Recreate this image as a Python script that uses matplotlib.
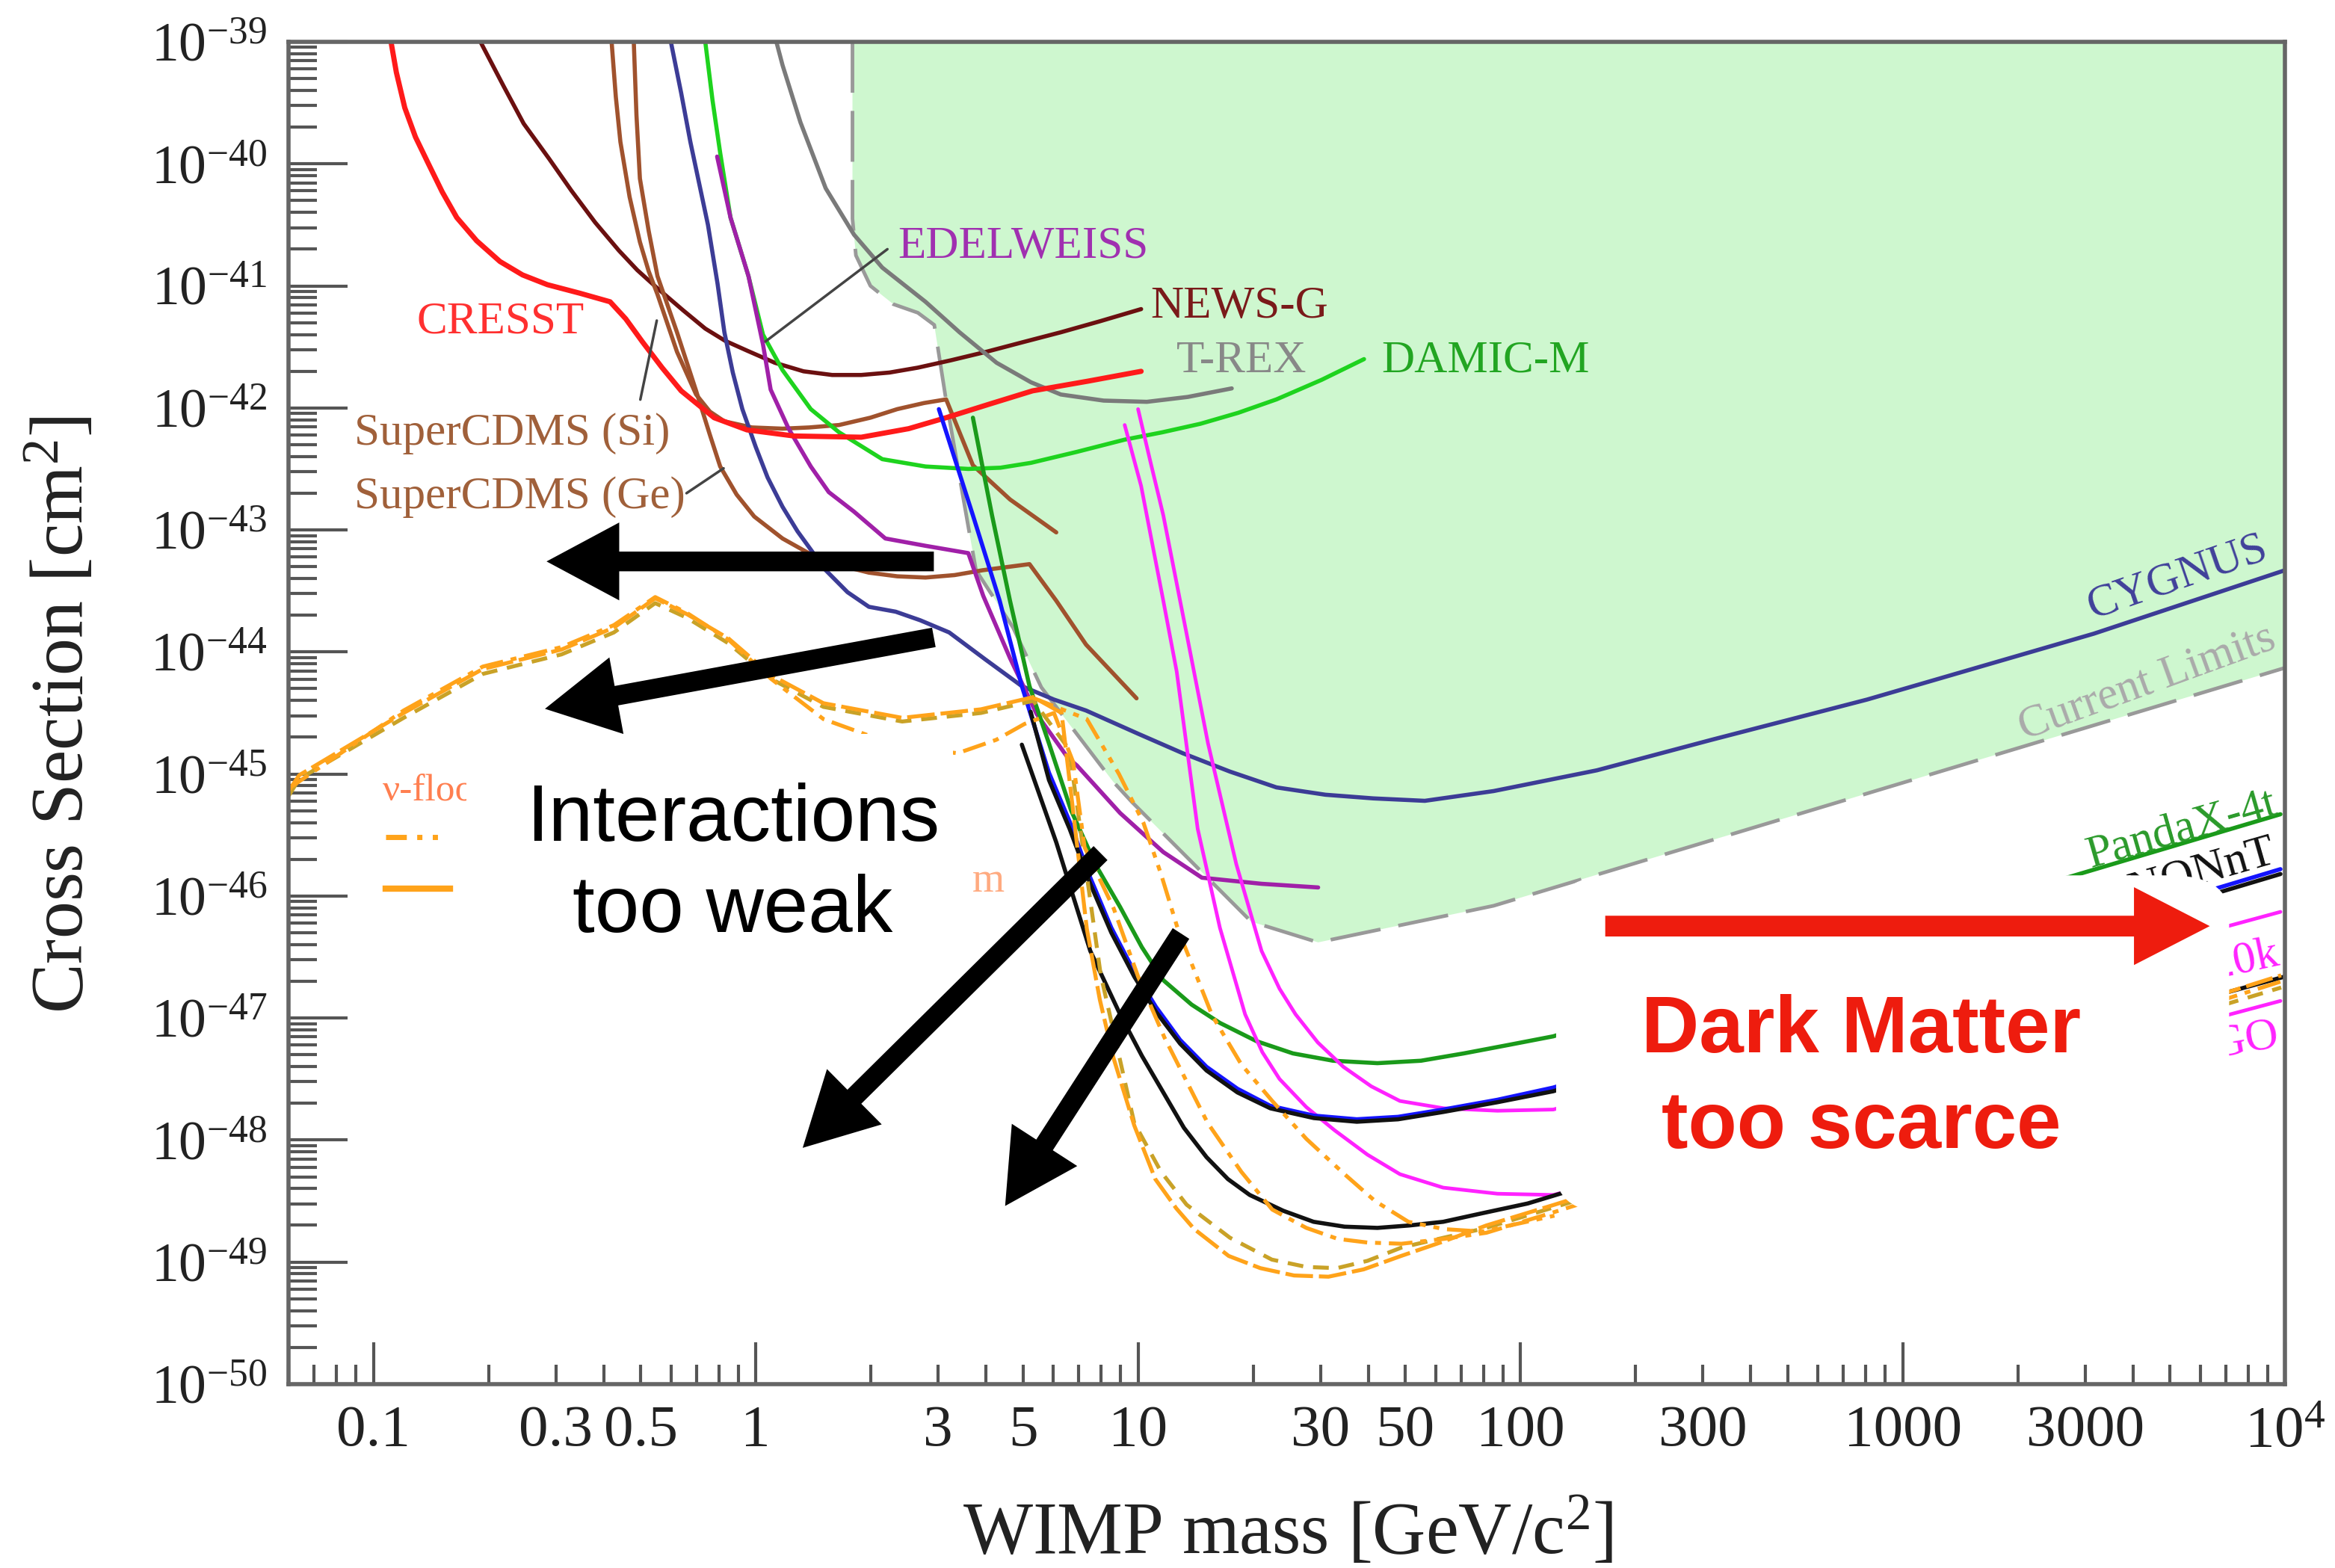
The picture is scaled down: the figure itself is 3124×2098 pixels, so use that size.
import matplotlib
matplotlib.use("Agg")
import matplotlib.pyplot as plt
import numpy as np
from matplotlib.patches import FancyBboxPatch, Rectangle
from matplotlib.ticker import FixedLocator, FixedFormatter, LogLocator, FuncFormatter

plt.rcParams['font.family'] = ['Liberation Serif', 'DejaVu Serif']
plt.rcParams['mathtext.fontset'] = 'custom'
plt.rcParams['mathtext.rm'] = 'Liberation Serif'
plt.rcParams['mathtext.it'] = 'Liberation Serif:italic'

# all curves: log10(WIMP mass / GeV) and log10(cross section / cm^2)
cresst_m = [-0.954, -0.94, -0.918, -0.89, -0.856, -0.82, -0.782, -0.73, -0.669, -0.61, -0.545, -0.46, -0.381, -0.34,
            -0.296, -0.245, -0.195, -0.109, -0.023, 0.1, 0.276, 0.40, 0.498, 0.61, 0.724, 0.87, 1.008]
cresst_s = [-39.0, -39.25, -39.54, -39.78, -40.00, -40.23, -40.44, -40.63, -40.80, -40.91, -40.99, -41.06, -41.13, -41.27,
            -41.46, -41.67, -41.86, -42.08, -42.18, -42.23, -42.24, -42.17, -42.08, -41.97, -41.86, -41.78, -41.70]

newsg_m = [-0.720, -0.66, -0.607, -0.54, -0.482, -0.42, -0.358, -0.31, -0.257, -0.19, -0.132, -0.08, -0.023, 0.05,
           0.125, 0.20, 0.276, 0.35, 0.424, 0.51, 0.603, 0.70, 0.798, 0.90, 1.008]
newsg_s = [-39.0, -39.36, -39.67, -39.96, -40.22, -40.48, -40.71, -40.87, -41.02, -41.20, -41.35, -41.45, -41.53, -41.63,
           -41.70, -41.73, -41.73, -41.71, -41.67, -41.61, -41.54, -41.46, -41.38, -41.29, -41.19]

si_m = [-0.377, -0.366, -0.354, -0.33, -0.303, -0.28, -0.257, -0.206, -0.156, -0.12, -0.082, -0.01, 0.070, 0.14,
        0.218, 0.30, 0.370, 0.44, 0.498, 0.568, 0.665, 0.786]
si_s = [-39.0, -39.45, -39.82, -40.27, -40.64, -40.88, -41.07, -41.54, -41.89, -42.03, -42.11, -42.16, -42.17, -42.16,
        -42.14, -42.08, -42.01, -41.96, -41.93, -42.47, -42.75, -43.02]

ge_m = [-0.319, -0.312, -0.303, -0.28, -0.257, -0.206, -0.156, -0.12, -0.093, -0.05, -0.004, 0.07, 0.144, 0.22,
        0.296, 0.37, 0.444, 0.52, 0.594, 0.716, 0.786, 0.864, 0.996]
ge_s = [-39.0, -39.60, -40.12, -40.55, -40.92, -41.38, -41.86, -42.22, -42.48, -42.71, -42.89, -43.07, -43.20, -43.29,
        -43.35, -43.38, -43.39, -43.37, -43.33, -43.28, -43.58, -43.94, -44.38]

cyg_m = [-0.222, -0.195, -0.171, -0.148, -0.125, -0.10, -0.082, -0.06, -0.035, 0.0, 0.031, 0.07, 0.109, 0.183, 0.24,
         0.296, 0.366, 0.43, 0.506, 0.60, 0.696, 0.78, 0.864, 1.0, 1.117, 1.24, 1.362, 1.49, 1.615, 1.75, 1.930,
         2.2, 2.5, 2.907, 3.5, 4.0]
cyg_s = [-39.0, -39.42, -39.82, -40.16, -40.50, -40.98, -41.38, -41.71, -42.01, -42.32, -42.57, -42.81, -43.01, -43.33,
         -43.51, -43.63, -43.67, -43.74, -43.84, -44.06, -44.28, -44.39, -44.48, -44.67, -44.83, -44.98, -45.11, -45.17,
         -45.20, -45.22, -45.14, -44.97, -44.72, -44.39, -43.85, -43.33]

damic_m = [-0.132, -0.113, -0.093, -0.066, -0.019, 0.019, 0.070, 0.144, 0.218, 0.331, 0.444, 0.556, 0.640, 0.720,
           0.84, 0.965, 1.063, 1.163, 1.262, 1.362, 1.48, 1.591]
damic_s = [-39.0, -39.48, -39.91, -40.44, -40.92, -41.40, -41.69, -42.01, -42.20, -42.42, -42.48, -42.50, -42.49, -42.45,
           -42.36, -42.26, -42.20, -42.13, -42.04, -41.93, -41.77, -41.60]

edw_m = [-0.101, -0.066, -0.019, 0.019, 0.039, 0.086, 0.144, 0.191, 0.257, 0.339, 0.444, 0.556, 0.595, 0.665,
         0.735, 0.817, 0.840, 0.953, 1.066, 1.167, 1.323, 1.471]
edw_s = [-39.94, -40.44, -40.92, -41.48, -41.85, -42.17, -42.48, -42.69, -42.85, -43.07, -43.13, -43.19, -43.54, -44.05,
         -44.51, -44.87, -44.93, -45.32, -45.64, -45.85, -45.90, -45.93]

trex_m = [0.054, 0.070, 0.117, 0.183, 0.257, 0.331, 0.444, 0.533, 0.630, 0.720, 0.798, 0.91, 1.023, 1.13, 1.245]
trex_s = [-39.0, -39.19, -39.66, -40.20, -40.58, -40.85, -41.13, -41.38, -41.63, -41.79, -41.89, -41.94, -41.95, -41.91, -41.84]

lz_m = [0.479, 0.568, 0.638, 0.696, 0.767, 0.821, 0.875, 0.930, 0.99, 1.047, 1.11, 1.179, 1.26, 1.346, 1.46, 1.572,
        1.68, 1.798, 1.94, 2.086, 3.988]
lz_s = [-42.01, -42.88, -43.58, -44.28, -44.99, -45.39, -45.85, -46.26, -46.62, -46.91, -47.18, -47.40, -47.58, -47.72,
        -47.80, -47.83, -47.81, -47.75, -47.67, -47.57, -45.78]

xenon_m = [0.719, 0.767, 0.821, 0.875, 0.930, 0.99, 1.047, 1.11, 1.179, 1.26, 1.346, 1.46, 1.572, 1.68, 1.798, 1.94,
           2.086, 3.988]
xenon_s = [-44.49, -45.05, -45.45, -45.90, -46.30, -46.66, -46.95, -47.21, -47.43, -47.61, -47.74, -47.82, -47.85, -47.83,
           -47.77, -47.69, -47.60, -45.82]

darwin_m = [0.696, 0.786, 0.875, 0.953, 1.01, 1.066, 1.12, 1.179, 1.235, 1.292, 1.38, 1.459, 1.54, 1.626, 1.71, 1.798,
            1.90, 2.019, 3.848, 4.0]
darwin_s = [-44.76, -45.56, -46.45, -46.97, -47.31, -47.61, -47.90, -48.14, -48.32, -48.45, -48.58, -48.67, -48.71,
            -48.72, -48.70, -48.67, -48.60, -48.52, -46.79, -46.66]

panda_m = [0.568, 0.618, 0.665, 0.716, 0.767, 0.825, 0.89, 0.953, 1.01, 1.066, 1.14, 1.214, 1.31, 1.405, 1.51, 1.626,
           1.74, 1.852, 1.97, 2.086, 3.397, 3.988]
panda_s = [-42.08, -42.88, -43.58, -44.28, -44.75, -45.30, -45.75, -46.09, -46.42, -46.69, -46.89, -47.04, -47.19, -47.29,
           -47.35, -47.37, -47.35, -47.29, -47.22, -47.15, -45.88, -45.33]

ds20k_m = [1.0, 1.033, 1.066, 1.125, 1.183, 1.257, 1.323, 1.37, 1.412, 1.47, 1.537, 1.61, 1.685, 1.80, 1.94, 2.086, 3.988]
ds20k_s = [-42.01, -42.45, -42.88, -43.82, -44.75, -45.74, -46.45, -46.76, -46.97, -47.20, -47.40, -47.56, -47.68,
           -47.74, -47.76, -47.75, -46.13]

argo_m = [0.965, 1.008, 1.066, 1.101, 1.156, 1.214, 1.280, 1.325, 1.370, 1.44, 1.514, 1.60, 1.685, 1.798, 1.94, 2.086, 3.988]
argo_s = [-42.14, -42.64, -43.58, -44.16, -45.45, -46.26, -46.97, -47.28, -47.50, -47.73, -47.92, -48.12, -48.28,
          -48.39, -48.44, -48.45, -46.86]

# neutrino fog curves
fog_a_m = [-1.222, -1.194, -0.921, -0.714, -0.508, -0.371, -0.263, -0.180, -0.071, 0.040, 0.177, 0.383, 0.589, 0.726,
           0.80, 0.83, 0.866, 0.90, 0.936, 0.99, 1.045, 1.10, 1.147, 1.237, 1.32, 1.408, 1.498, 1.59, 1.688, 1.80, 1.911,
           2.089, 3.99]
fog_a_s = [-45.14, -45.01, -44.50, -44.14, -43.98, -43.80, -43.56, -43.69, -43.89, -44.19, -44.42, -44.54, -44.47, -44.37,
           -44.50, -45.30, -46.27, -46.85, -47.33, -47.88, -48.32, -48.56, -48.73, -48.95, -49.05, -49.11, -49.12, -49.06,
           -48.95, -48.83, -48.70, -48.53, -46.65]
fog_b_m = [-1.222, -1.194, -0.921, -0.714, -0.508, -0.371, -0.263, -0.180, -0.071, 0.040, 0.177, 0.383, 0.589, 0.726,
           0.82, 0.902, 0.99, 1.06, 1.127, 1.24, 1.35, 1.44, 1.52, 1.60, 1.69, 1.80, 1.911, 2.089, 3.99]
fog_b_s = [-45.18, -45.04, -44.54, -44.18, -44.02, -43.84, -43.60, -43.72, -43.93, -44.22, -44.45, -44.57, -44.50, -44.40,
           -44.80, -46.64, -47.86, -48.26, -48.53, -48.80, -48.98, -49.04, -49.05, -48.99, -48.88, -48.80, -48.72, -48.55,
           -46.75]
fog_c_m = [-1.222, -0.921, -0.714, -0.508, -0.371, -0.263, -0.180, -0.071, 0.040, 0.177, 0.30, 0.45, 0.528, 0.629, 0.703,
           0.78, 0.83, 0.86, 0.936, 1.0, 1.069, 1.182, 1.27, 1.351, 1.44, 1.522, 1.60, 1.689, 1.80, 1.911, 2.089, 3.99]
fog_c_s = [-45.12, -44.48, -44.12, -43.96, -43.78, -43.55, -43.68, -43.90, -44.22, -44.55, -44.69, -44.80, -44.83, -44.72,
           -44.59, -44.50, -44.90, -45.60, -46.10, -46.66, -47.16, -47.86, -48.26, -48.57, -48.72, -48.81, -48.84, -48.85,
           -48.81, -48.76, -48.59, -46.70]
fog_d_m = [0.72, 0.866, 0.95, 1.014, 1.06, 1.104, 1.194, 1.27, 1.351, 1.44, 1.54, 1.62, 1.707, 1.8, 1.9, 2.089]
fog_d_s = [-44.37, -44.55, -45.00, -45.40, -45.82, -46.27, -46.98, -47.38, -47.68, -47.99, -48.28, -48.50, -48.67,
           -48.73, -48.75, -48.62]

# current limits boundary
cl_m = [0.253, 0.253, 0.262, 0.30, 0.36, 0.424, 0.467, 0.498, 0.576, 0.673, 0.747, 0.934, 0.984, 1.296, 1.471, 1.93, 4.0]
cl_s = [-39.0, -40.45, -40.75, -41.0, -41.15, -41.22, -41.32, -41.94, -43.33, -43.80, -44.29, -45.06, -45.23, -46.21, -46.38, -46.08, -44.13]

x_major = [0.1, 1, 10, 100, 1000, 1e4]
x_major_labels = ['0.1', '1', '10', '100', '1000', r'$\mathregular{10^4}$']
x_minor_labelled = [0.3, 0.5, 3, 5, 30, 50, 300, 3000]


def p(lm, ls):
    return 10 ** np.array(lm), 10 ** np.array(ls)


fig = plt.figure(figsize=(31.24, 20.98), dpi=100)
ax = fig.add_axes([0.1236, 0.1173, 0.855, 0.856])
ax.set_xscale('log')
ax.set_yscale('log')
ax.set_xlim(0.06, 1e4)
ax.set_ylim(1e-50, 1e-39)

# current limits: shaded region + dashed boundary
cx, cy = p(cl_m, cl_s)
ax.fill(np.r_[cx, 1e4, cx[0]], np.r_[cy, 1e-39, 1e-39], color='#cef7cf', lw=0, zorder=0.5)
ax.plot(cx, cy, color='#999999', lw=3.5, ls=(0, (14, 5)), zorder=1)

lw = 4
curves = [
    (newsg_m, newsg_s, '#6b1010', lw, '-'),
    (si_m, si_s, '#a0522d', lw, '-'),
    (ge_m, ge_s, '#a0522d', lw, '-'),
    (cyg_m, cyg_s, '#3c3c96', lw, '-'),
    (trex_m, trex_s, '#7a7a7a', lw, '-'),
    (damic_m, damic_s, '#1ed31e', lw, '-'),
    (edw_m, edw_s, '#a020a8', lw, '-'),
    (cresst_m, cresst_s, '#ff1a1a', 5, '-'),
    (panda_m, panda_s, '#1a9a1a', lw, '-'),
    (ds20k_m, ds20k_s, '#ff22ff', 3.5, '-'),
    (argo_m, argo_s, '#ff22ff', 3.5, '-'),
    (lz_m, lz_s, '#1414ff', lw, '-'),
    (xenon_m, xenon_s, '#111111', lw, '-'),
    (darwin_m, darwin_s, '#111111', lw, '-'),
    (fog_b_m, fog_b_s, '#c9a227', 3.8, (0, (4, 2.5))),
    (fog_c_m, fog_c_s, '#ffa31a', 3.8, (0, (6, 2, 1.5, 2))),
    (fog_d_m, fog_d_s, '#ffa31a', 3.8, (0, (6, 2, 1.5, 2, 1.5, 2))),
    (fog_a_m, fog_a_s, '#ffa31a', 3.8, (0, (7, 1.5))),
]
for lm, ls, col, w, sty in curves:
    x, y = p(lm, ls)
    ax.plot(x, y, color=col, lw=w, ls=sty, zorder=2, solid_capstyle='round', solid_joinstyle='round')

# curve labels
lab = dict(fontsize=44, zorder=4)
ax.text(0.130, 5.1e-42, 'CRESST', color='#ff3030', va='center', **lab)
ax.text(10.8, 6.8e-42, 'NEWS-G', color='#7a1a1a', va='center', **lab)
ax.text(12.6, 2.4e-42, 'T-REX', color='#888888', va='center', **lab)
ax.text(43.4, 2.45e-42, 'DAMIC-M', color='#22a522', va='center', **lab)
ax.text(2.35, 2.1e-41, 'EDELWEISS', color='#a030b0', va='center', **lab)
ax.text(0.0893, 6.2e-43, 'SuperCDMS (Si)', color='#a0603a', va='center', **lab)
ax.text(0.0893, 1.85e-43, 'SuperCDMS (Ge)', color='#a0603a', va='center', **lab)
ax.text(5230, 4.1e-44, 'CYGNUS', color='#40409a', ha='center', va='center', rotation=19, rotation_mode='anchor', **lab)
ax.text(4365, 5.6e-45, 'Current Limits', color='#aaaaaa', ha='center', va='center', rotation=20, rotation_mode='anchor', **lab)
ax.text(5360, 3.5e-46, 'PandaX-4t', color='#2a9a2a', ha='center', va='center', rotation=16, rotation_mode='anchor', **lab)
ax.text(5100, 1.35e-46, 'XENONnT', color='#111111', ha='center', va='center', rotation=16, rotation_mode='anchor', **lab)
ax.text(9600, 3.4e-47, 'DarkSide-20k', color='#ff22ff', ha='right', va='center', rotation=12, rotation_mode='anchor', **lab)
ax.text(9600, 7.3e-48, 'ARGO', color='#ff22ff', ha='right', va='center', rotation=10, rotation_mode='anchor', **lab)

lead = dict(arrowstyle='-', color='#444444', lw=2.5, shrinkA=0, shrinkB=0)
ax.annotate('', xy=(0.551, 5.2e-42), xytext=(0.499, 1.17e-42), arrowprops=lead)
ax.annotate('', xy=(0.824, 3.2e-43), xytext=(0.659, 2.0e-43), arrowprops=lead)
ax.annotate('', xy=(1.06, 3.5e-42), xytext=(2.21, 2.0e-41), arrowprops=lead)

# neutrino-floor legend fragment
ax.text(0.0472, 0.4411, 'ν-floor', transform=ax.transAxes, color='#ff7f50', fontsize=37, va='center', zorder=4)
ax.plot([0.0487, 0.0763], [0.4078, 0.4078], transform=ax.transAxes, color='#ffa31a', lw=5,
        ls=(0, (4, 2, 1, 2, 1, 2)), zorder=4)
ax.plot([0.0487, 0.0808], [0.3690, 0.3690], transform=ax.transAxes, color='#ffa31a', lw=6, zorder=4)
ax.text(0.3507, 0.3748, 'm', transform=ax.transAxes, color='#ffaa80', fontsize=40, ha='center', va='center', zorder=4)

# white boxes with the annotations
ax.add_patch(Rectangle((0.0890, 0.2936), 0.2439, 0.1907, transform=ax.transAxes, fc='white', ec='none', zorder=5))
ax.add_patch(FancyBboxPatch((0.6349, 0.1272), 0.3371, 0.2518, boxstyle='round,pad=0,rounding_size=0.03',
                            transform=ax.transAxes, fc='white', ec='none', zorder=5))

sans = ['Liberation Sans', 'DejaVu Sans']
ax.text(0.2225, 0.4201, 'Interactions', transform=ax.transAxes, family=sans, fontsize=77,
        ha='center', va='center', zorder=6)
ax.text(0.2225, 0.3524, 'too weak', transform=ax.transAxes, family=sans, fontsize=77,
        ha='center', va='center', zorder=6)
ax.text(0.7878, 0.2625, 'Dark Matter', transform=ax.transAxes, family=sans, fontsize=77, fontweight='bold',
        color='#ee1c0e', ha='center', va='center', zorder=6)
ax.text(0.7878, 0.1915, 'too scarce', transform=ax.transAxes, family=sans, fontsize=77, fontweight='bold',
        color='#ee1c0e', ha='center', va='center', zorder=6)

arr = 'simple,head_length=70,head_width=75,tail_width=19'
for tail, tip in [((0.3232, 0.6129), (0.1292, 0.6129)),
                  ((0.3232, 0.5563), (0.1284, 0.5031)),
                  ((0.4067, 0.3956), (0.2575, 0.1760)),
                  ((0.4470, 0.3357), (0.3589, 0.1327))]:
    ax.annotate('', xy=tip, xytext=tail, xycoords='axes fraction', textcoords='axes fraction',
                arrowprops=dict(arrowstyle=arr, mutation_scale=1, fc='black', ec='none', shrinkA=0, shrinkB=0),
                zorder=7)
ax.annotate('', xy=(0.9623, 0.3412), xytext=(0.6595, 0.3412), xycoords='axes fraction', textcoords='axes fraction',
            arrowprops=dict(arrowstyle='simple,head_length=73,head_width=75,tail_width=20', mutation_scale=1,
                            fc='#ee1c0e', ec='none', shrinkA=0, shrinkB=0), zorder=7)

# axes styling
for s in ax.spines.values():
    s.set_color('#666666')
    s.set_linewidth(4)
    s.set_zorder(8)

ax.xaxis.set_major_locator(FixedLocator(x_major))
ax.xaxis.set_major_formatter(FixedFormatter(x_major_labels))
ax.xaxis.set_minor_locator(LogLocator(base=10, subs=np.arange(2, 10), numticks=50))


def minor_lbl(v, pos):
    for t in x_minor_labelled:
        if np.isclose(v, t):
            return f'{t:g}'
    return ''


ax.xaxis.set_minor_formatter(FuncFormatter(minor_lbl))
y_major = [10.0 ** e for e in range(-50, -38)]
ax.yaxis.set_major_locator(FixedLocator(y_major))
ax.yaxis.set_major_formatter(FixedFormatter([r'$\mathregular{10^{%d}}$' % e for e in range(-50, -38)]))
ax.yaxis.set_minor_locator(LogLocator(base=10, subs=np.arange(2, 10), numticks=50))
ax.yaxis.set_minor_formatter(FuncFormatter(lambda v, pos: ''))

ax.tick_params(axis='both', which='both', direction='in', colors='#555555', top=False, right=False)
ax.tick_params(axis='both', which='both', labelcolor='#222222')
ax.tick_params(axis='x', which='both', labelsize=57)
ax.tick_params(axis='y', which='both', labelsize=53)
ax.tick_params(axis='x', which='major', length=40, width=3, pad=20)
ax.tick_params(axis='x', which='minor', length=19, width=3, pad=20)
ax.tick_params(axis='y', which='major', length=57, width=3, pad=21)
ax.tick_params(axis='y', which='minor', length=27, width=3)

fig.text(0.0269, 0.5443, r'Cross Section [cm$^{\mathregular{2}}$]', rotation=90, fontsize=72,
         ha='center', va='center', color='#222222')
fig.text(0.5515, 0.0219, r'WIMP mass [GeV/c$^{\mathregular{2}}$]', fontsize=71,
         ha='center', va='center', color='#222222')

fig.savefig('out.png', dpi=100, facecolor='white')
